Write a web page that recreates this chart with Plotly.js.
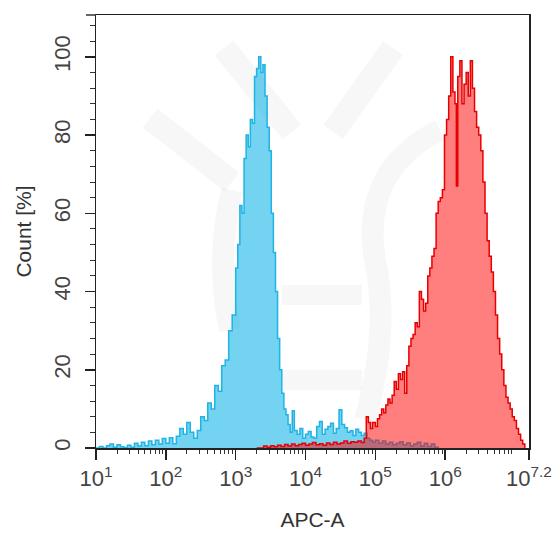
<!DOCTYPE html>
<html>
<head>
<meta charset="utf-8">
<script src="https://cdn.plot.ly/plotly-3.0.1.min.js"></script>
<style>
html,body{margin:0;padding:0;background:#fff;}
#chart{width:560px;height:534px;}
</style>
</head>
<body>
<div id="chart"></div>
<script>
// log10 positions of histogram bins (APC-A) and counts (% of max)
const blueExp = [1.00,1.05,1.10,1.15,1.20,1.25,1.30,1.35,1.40,1.45,1.50,1.55,1.60,1.65,1.70,1.75,1.80,1.85,1.90,1.95,
2.00,2.05,2.10,2.15,2.20,2.25,2.30,2.35,2.40,2.45,2.50,2.55,2.60,2.65,2.70,2.75,2.80,2.85,2.90,2.95,
3.00,3.03,3.06,3.09,3.12,3.15,3.18,3.21,3.24,3.27,3.30,3.33,3.36,3.39,3.42,3.45,3.48,3.51,3.54,3.57,
3.60,3.63,3.66,3.69,3.72,3.75,3.78,3.81,3.84,3.88,3.92,3.96,4.00,4.04,4.08,4.12,4.16,4.20,4.24,4.28,
4.32,4.36,4.40,4.44,4.48,4.52,4.56,4.60,4.64,4.68,4.72,4.76,4.80,4.84,4.88,4.92,4.96,5.00,5.05,5.10,
5.15,5.20,5.25,5.30,5.35,5.40,5.45,5.50,5.55,5.60,5.65,5.70,5.75,5.80,5.85,5.90];
const blueCount = [0,0.4,0,0.6,1.0,0.2,0.8,0.3,0.1,0.7,0.2,1.2,0.5,1.5,0.6,1.8,0.8,2.0,1.0,2.4,
1.2,2.6,1.1,3.0,5.0,3.5,6.5,4.0,2.5,4.5,8.0,7.0,11.5,10.0,16.0,14.5,21.0,22.5,30,34,
46,52,62,60,74,80,77,84,83,95,97,100,96,98,90,82,76,60,50,40,
28,20,14,10,8.5,6,4,9.5,4.5,3.5,5.0,2.5,3.5,4.2,2.8,2.5,5.5,6.8,3.5,4.8,
5.5,6.3,3.8,5.0,9.8,6.0,5.2,4.0,4.4,3.2,4.8,4.0,3.2,3.8,2.5,2.0,1.5,2.0,1.2,1.8,
1.0,1.5,0.8,1.2,1.6,0.8,1.3,0.6,1.0,1.5,0.5,1.2,0.4,1.0,0.2,0];

const redExp = [3.30,3.40,3.45,3.50,3.55,3.60,3.65,3.70,3.75,3.80,3.85,3.90,3.95,4.00,4.05,4.10,4.15,4.20,4.25,4.30,
4.35,4.40,4.45,4.50,4.55,4.60,4.65,4.70,4.75,4.80,4.84,4.87,4.90,4.93,4.96,5.00,5.03,5.06,5.09,5.12,
5.15,5.18,5.21,5.24,5.27,5.30,5.33,5.36,5.39,5.42,5.45,5.48,5.51,5.54,5.57,5.60,5.63,5.66,5.69,5.72,
5.75,5.78,5.81,5.84,5.87,5.90,5.93,5.96,5.99,6.02,6.05,6.08,6.11,6.14,6.16,6.18,6.21,6.24,6.27,6.30,
6.33,6.36,6.39,6.42,6.45,6.48,6.51,6.54,6.57,6.60,6.63,6.66,6.69,6.72,6.75,6.78,6.81,6.84,6.87,6.90,
6.93,6.96,6.99,7.02,7.05,7.08,7.11,7.14];
const redCount = [0,0.5,0.2,0.6,0.3,0.7,0.4,0.9,0.5,1.0,0.6,0.9,1.2,0.7,1.0,1.4,0.8,1.1,0.7,1.3,
0.9,1.5,1.0,1.3,1.8,1.2,1.6,1.5,1.8,1.4,2.5,8.0,6.5,5.0,6.5,5.5,7.5,8.5,10.0,9.0,
11.0,12.5,11.5,13.5,17.0,15.0,19.0,17.5,19.5,14.0,21.0,26.0,28.0,29.0,32.0,31.0,40.0,38.0,35.0,37.0,
44.0,46.0,49.0,51.0,60.0,63.0,64.0,66.0,80.0,84.0,90.0,100.0,91.0,88.0,67.0,95.0,99.0,88.0,93.0,96.0,
90.0,99.0,92.0,86.0,82.0,80.0,76.0,68.0,60.0,53.0,49.0,45.0,40.0,34.0,28.0,24.0,20.0,16.0,13.0,11.5,
10.0,8.0,7.0,5.0,3.5,2.0,1.0,0];

const xTickExp = [1,2,3,4,5,6,7.2];
const xTickText = ["10<sup>1</sup>","10<sup>2</sup>","10<sup>3</sup>","10<sup>4</sup>","10<sup>5</sup>","10<sup>6</sup>","10<sup>7.2</sup>"];
const yTicks = [0,20,40,60,80,100];

const toLin = a => a.map(e => Math.pow(10, e));

const minorVals = [];
for (let d = 1; d < 7; d++) for (let m = 2; m <= 9; m++) { const v = m * Math.pow(10, d); if (Math.log10(v) < 7.2) minorVals.push(v); }

const FONT = '"Liberation Sans",Arial,sans-serif';

// faint background watermark (pixel coords -> paper coords)
const PL = 96, PT = 15, PW = 433, PH = 433;
const px = x => (x - PL) / PW, py = y => (PT + PH - y) / PH;
const WM = 'rgba(0,0,0,0.032)';
function wmLine(x0, y0, x1, y1, w) {
  return {type:'line', xref:'paper', yref:'paper', layer:'below', x0:px(x0), y0:py(y0), x1:px(x1), y1:py(y1), line:{color:WM, width:w}};
}
const shapes = [
  wmLine(150, 118, 232, 182, 24),
  wmLine(224, 48, 292, 132, 24),
  wmLine(393, 48, 333, 132, 24),
  wmLine(282, 295, 362, 295, 20),
  wmLine(282, 380, 362, 380, 20),
  {type:'path', xref:'paper', yref:'paper', layer:'below', line:{color:WM, width:22},
   path:`M ${px(440)} ${py(130)} Q ${px(360)} ${py(170)} ${px(375)} ${py(260)} Q ${px(390)} ${py(330)} ${px(365)} ${py(420)}`},
  {type:'path', xref:'paper', yref:'paper', layer:'below', line:{color:WM, width:22},
   path:`M ${px(232)} ${py(190)} Q ${px(215)} ${py(260)} ${px(230)} ${py(330)}`},
  {type:'line', xref:'paper', yref:'paper', x0:-0.023, x1:0, y0:1, y1:1, line:{color:'#333', width:1.5}}
];

const traces = [
  {x: toLin(blueExp), y: blueCount, type:'scatter', mode:'lines', line:{shape:'hv', color:'rgb(30,180,228)', width:1.5},
   fill:'tozeroy', fillcolor:'rgba(0,175,230,0.55)', hoverinfo:'skip'},
  {x: toLin(redExp), y: redCount, type:'scatter', mode:'lines', line:{shape:'hv', color:'rgb(232,0,0)', width:1.5},
   fill:'tozeroy', fillcolor:'rgba(255,0,0,0.5)', hoverinfo:'skip'}
];

const layout = {
  width:560, height:534,
  margin:{l:96, r:31, t:15, b:86},
  paper_bgcolor:'#fff', plot_bgcolor:'rgba(0,0,0,0)',
  showlegend:false,
  font:{family:FONT, color:'#333', size:18},
  xaxis:{
    type:'log', range:[1,7.2], showgrid:false, zeroline:false,
    showline:true, linecolor:'#222', linewidth:1.5, mirror:true,
    ticks:'outside', ticklen:10, tickwidth:1.5, tickcolor:'#222',
    tickmode:'array', tickvals: toLin(xTickExp), ticktext: xTickText,
    tickfont:{family:FONT, size:22, color:'#444'},
    minor:{tickmode:'array', tickvals:minorVals, ticks:'outside', ticklen:4, tickwidth:1, tickcolor:'#333'},
    title:{text:'APC-A', font:{family:FONT, size:21, color:'#333'}, standoff:22}
  },
  yaxis:{
    range:[0,110.7], showgrid:false, zeroline:false,
    showline:true, linecolor:'#222', linewidth:1.5, mirror:true,
    ticks:'outside', ticklen:10, tickwidth:1.5, tickcolor:'#222',
    tickmode:'array', tickvals:yTicks, tickangle:-90, ticklabelstandoff:6,
    tickfont:{family:FONT, size:22, color:'#444'},
    minor:{dtick:4, ticks:'outside', ticklen:5, tickwidth:1, tickcolor:'#333'},
    title:{text:'Count [%]', font:{family:FONT, size:21, color:'#333'}, standoff:12}
  },
  shapes: shapes
};

Plotly.newPlot('chart', traces, layout, {staticPlot:true, displayModeBar:false});
</script>
</body>
</html>
